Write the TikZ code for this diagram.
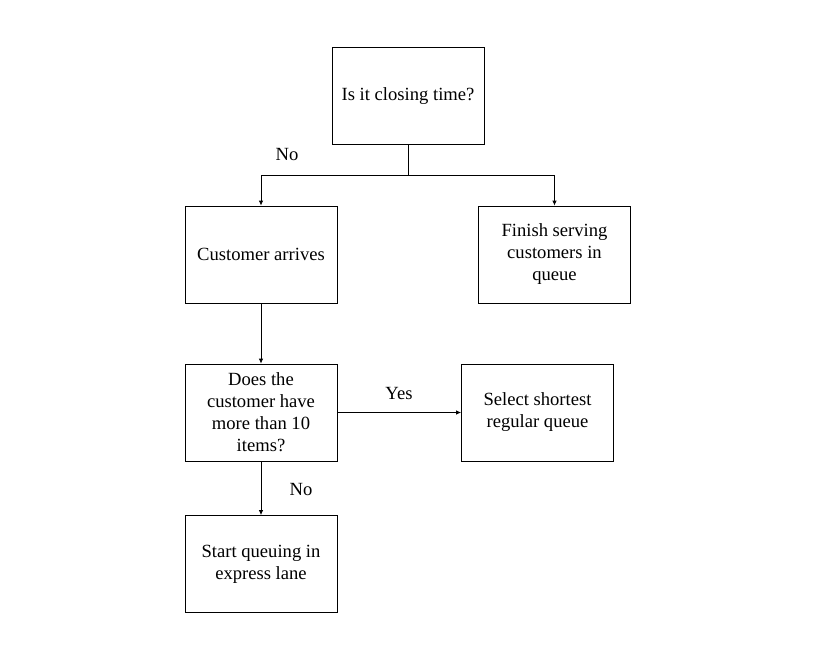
\documentclass[tikz,border=0pt]{standalone}
\usepackage{fontspec}
\setmainfont{Liberation Serif}
\usetikzlibrary{arrows.meta}
\begin{document}
\begin{tikzpicture}[x=1pt,y=-1pt,
  box/.style={draw,line width=0.8pt,minimum width=152pt,minimum height=97pt,inner sep=0pt,align=center,font=\fontsize{18.6}{22}\selectfont},
  lbl/.style={font=\fontsize{18.6}{22}\selectfont,inner sep=0pt},
  conn/.style={line width=0.8pt,-{Latex[length=5pt,width=4.5pt]}}]
\useasboundingbox (0,0) rectangle (816,650);
\node[box] (q1) at (408,96) {Is it closing time?};
\node[box] (ca) at (261,254.5) {Customer arrives};
\node[box] (fs) at (554.5,254.5) {Finish serving\\customers in\\queue};
\node[box] (q2) at (261,412.5) {Does the\\customer have\\more than 10\\items?};
\node[box] (sq) at (537.5,412.5) {Select shortest\\regular queue};
\node[box] (se) at (261,564) {Start queuing in\\express lane};
\coordinate (j) at (408,175);
\draw[line width=0.8pt] (q1.south) -- (j);
\draw[conn] (j) -| (ca.north);
\draw[conn] (j) -| (fs.north);
\draw[conn] (ca.south) -- (q2.north);
\draw[conn] (q2.east) -- (sq.west);
\draw[conn] (q2.south) -- (se.north);
\node[lbl] (no1) at (287,155) {No};
\node[lbl] (yes) at (399,393) {Yes};
\node[lbl] (no2) at (301,489) {No};
\end{tikzpicture}
\end{document}
